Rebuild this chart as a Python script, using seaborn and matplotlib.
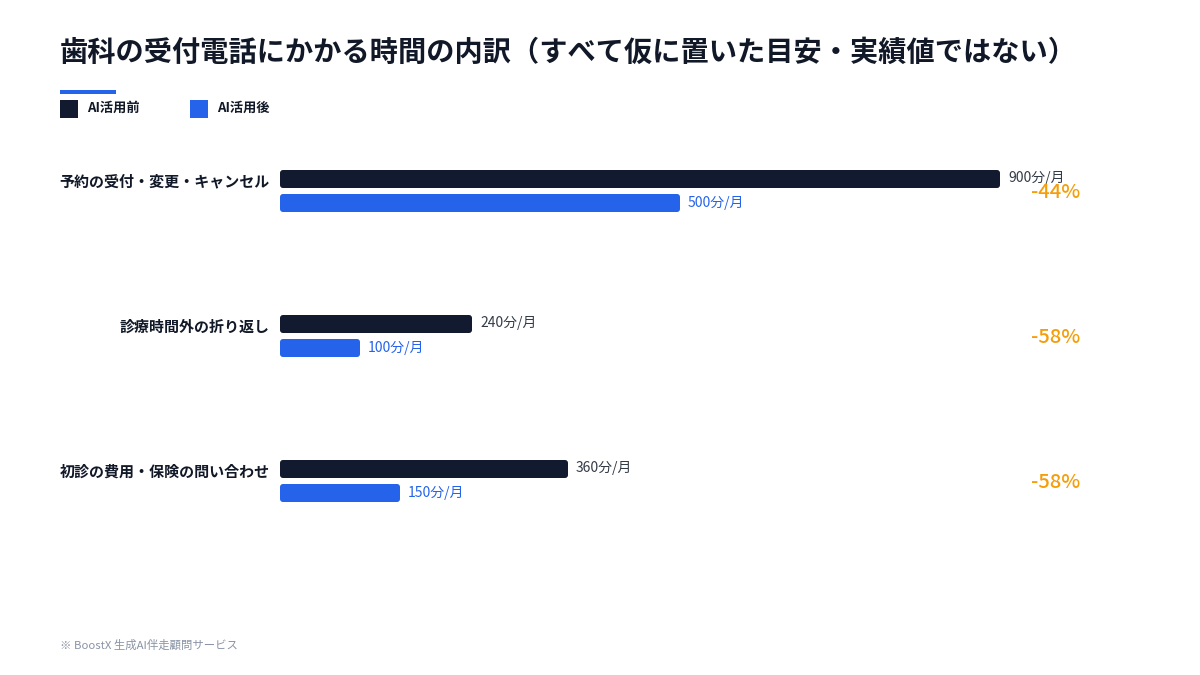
import seaborn as sns
import numpy as np
import pandas as pd
import matplotlib.pyplot as plt
import matplotlib.transforms as mtransforms
from matplotlib.patches import FancyBboxPatch, Rectangle

# data
categories = ['予約の受付・変更・キャンセル', '診療時間外の折り返し', '初診の費用・保険の問い合わせ']
before = [900, 240, 360]
after = [500, 100, 150]
series_names = ['AI活用前', 'AI活用後']

DARK = '#111A2E'
BLUE = '#2563EB'
ORANGE = '#F59E0B'
TEXT = '#111827'
GRAY = '#8A94A6'

sns.set_theme(style='white')
plt.rcParams['font.family'] = ['Noto Sans CJK JP', 'DejaVu Sans']

df = pd.DataFrame({
    'category': categories * 2,
    'minutes': before + after,
    'series': [series_names[0]] * 3 + [series_names[1]] * 3,
})

W, H = 1200, 675
fig = plt.figure(figsize=(12, 6.75), dpi=100)

# axes: x 280px..1000px for 0..900, rows spaced 145px
ax_left, ax_right = 280, 1000
ax_top, ax_bot = 140, 540
ax = fig.add_axes([ax_left / W, 1 - ax_bot / H, (ax_right - ax_left) / W, (ax_bot - ax_top) / H])

sns.barplot(data=df, y='category', x='minutes', hue='series', orient='h',
            palette=[DARK, BLUE], width=0.331, gap=0.25, ax=ax, legend=False,
            saturation=1)

ax.set_xlim(0, 900)
ax.set_ylim(2 + (ax_bot - 481) / 145, -(191 - ax_top) / 145)
ax.axis('off')

# round the bar corners
x_per_px = 900 / (ax_right - ax_left)
y_per_px = 1 / 145
for p in list(ax.patches):
    x0, y0, w, h = p.get_x(), p.get_y(), p.get_width(), p.get_height()
    fb = FancyBboxPatch((x0, y0), w, h,
                        boxstyle=f'round,pad=0,rounding_size={3 * x_per_px}',
                        mutation_aspect=y_per_px / x_per_px,
                        facecolor=p.get_facecolor(), edgecolor='none')
    p.remove()
    ax.add_patch(fb)

# value labels
n = len(categories)
off = 0.331 / 4
for i in range(n):
    ax.annotate(f'{before[i]}分/月', (before[i], i - off), xytext=(5.8, 1), textcoords='offset points',
                ha='left', va='center', fontsize=10, color='#333B48', annotation_clip=False)
    ax.annotate(f'{after[i]}分/月', (after[i], i + off), xytext=(5.8, 0), textcoords='offset points',
                ha='left', va='center', fontsize=10, color=BLUE, annotation_clip=False)

# category labels and change
blend = mtransforms.blended_transform_factory(fig.transFigure, ax.transData)
for i, cat in enumerate(categories):
    ax.text(270 / W, i - 0.065, cat, transform=blend, ha='right', va='center',
            fontsize=10.8, fontweight='bold', color=TEXT)
    pct = round((after[i] - before[i]) / before[i] * 100)
    ax.text(1080 / W, i + 0.01, f'{pct}%', transform=blend, ha='right', va='center',
            fontsize=14.5, fontweight='medium', color=ORANGE)

# title
fig.text(60 / W, 1 - 53 / H, '歯科の受付電話にかかる時間の内訳（すべて仮に置いた目安・実績値ではない）',
         ha='left', va='center', fontsize=20.3, fontweight='bold', color=TEXT)
fig.add_artist(Rectangle((60 / W, 1 - 94 / H), 56 / W, 4 / H, transform=fig.transFigure,
                         facecolor=BLUE, edgecolor='none'))

# legend
for x, name, col in [(60, series_names[0], DARK), (190, series_names[1], BLUE)]:
    fig.add_artist(Rectangle((x / W, 1 - 118 / H), 18 / W, 18 / H, transform=fig.transFigure,
                             facecolor=col, edgecolor='none'))
    fig.text((x + 27) / W, 1 - 108 / H, name, ha='left', va='center',
             fontsize=9.5, fontweight='bold', color=TEXT)

# footnote
fig.text(60 / W, 1 - 645 / H, '※ BoostX 生成AI伴走顧問サービス', ha='left', va='center',
         fontsize=8.2, color=GRAY)

fig.savefig('out.png', dpi=100, facecolor='white')
